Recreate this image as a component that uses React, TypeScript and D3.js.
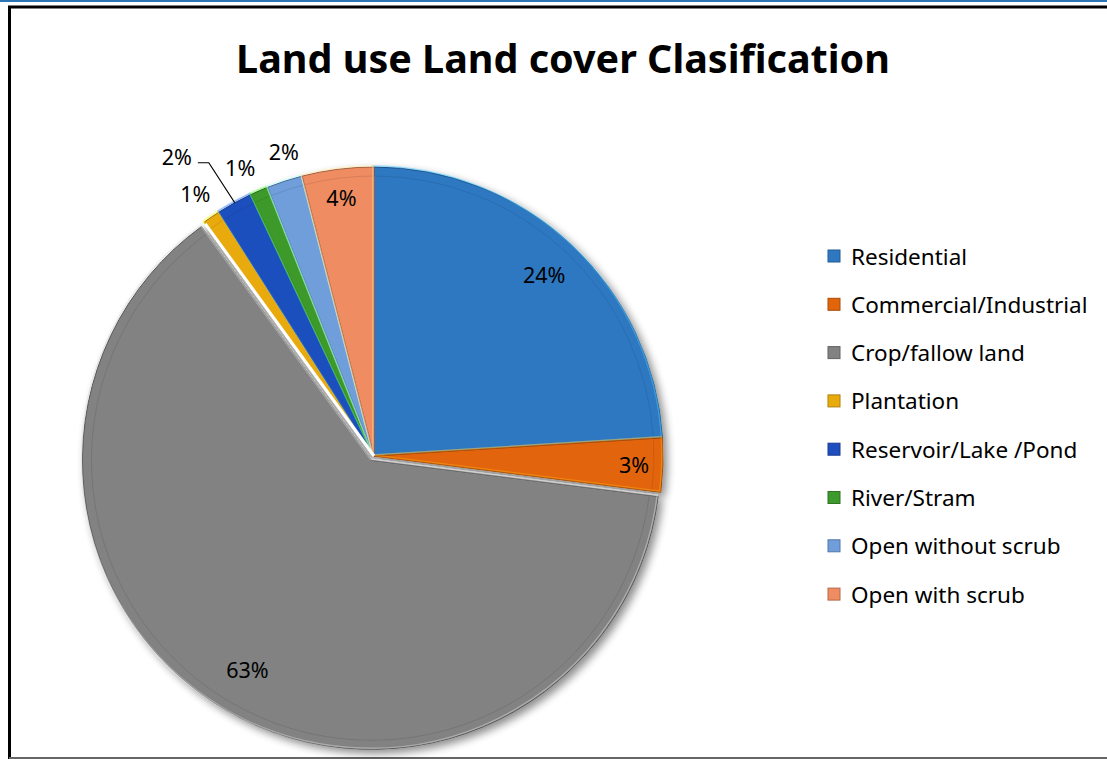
import React from 'react';
import * as d3 from 'd3';

const categories = [
  'Residential',
  'Commercial/Industrial',
  'Crop/fallow land',
  'Plantation',
  'Reservoir/Lake /Pond',
  'River/Stram',
  'Open without scrub',
  'Open with scrub',
];
const shares = [24, 3, 63, 1, 2, 1, 2, 4];
const colors = ['#2e78c2', '#e2650c', '#828282', '#e9aa0c', '#1f4fbe', '#3d9a2c', '#6f9edb', '#ef8c62'];
const title = 'Land use Land cover Clasification';

const W = 1107;
const H = 759;
const cx = 374;
const cy = 456;
const R = 289;
const FONT = "'Noto Sans', 'Open Sans', sans-serif";

interface Slice {
  name: string;
  value: number;
}

const data: Slice[] = categories.map((name, i) => ({ name, value: shares[i] }));

const App: React.FC = () => {
  const pie = d3
    .pie<Slice>()
    .sort(null)
    .value((d) => d.value)
    .startAngle(0)
    .endAngle(2 * Math.PI);
  const arcs = pie(data);
  const total = d3.sum(shares);

  const arc = d3.arc<d3.PieArcDatum<Slice>>().innerRadius(0).outerRadius(R);
  const innerArc = d3.arc<d3.PieArcDatum<Slice>>().innerRadius(0).outerRadius(R - 9);

  const polar = (angle: number, r: number): [number, number] => [Math.sin(angle) * r, -Math.cos(angle) * r];
  const deg = Math.PI / 180;

  // crop slice is pulled out a touch
  const explode = (i: number) => (categories[i] === 'Crop/fallow land' ? 5 : 0);

  // small outside labels spread apart a little (degrees), like Excel's best fit
  const labelNudge: Record<string, number> = { 'River/Stram': -1.5, 'Open without scrub': 1.5 };

  const labelFactor = (d: d3.PieArcDatum<Slice>) => {
    const pct = d.data.value / total;
    if (pct >= 0.1) return 0.86;
    if (pct >= 0.03) return 0.9;
    return 1.1;
  };

  const legendX = 828;
  const legendY0 = 256;
  const legendStep = 48.3;

  return (
    <svg
      width={W}
      height={H}
      style={{ position: 'absolute', left: 0, top: 0, background: '#fff' }}
      fontFamily={FONT}
    >
      <defs>
        <filter id="shadow" x="-20%" y="-20%" width="140%" height="140%">
          <feGaussianBlur in="SourceAlpha" stdDeviation="4" />
          <feOffset dx="4" dy="4" result="blur" />
          <feComponentTransfer>
            <feFuncA type="linear" slope="0.45" />
          </feComponentTransfer>
          <feMerge>
            <feMergeNode />
            <feMergeNode in="SourceGraphic" />
          </feMerge>
        </filter>
      </defs>

      {/* frame */}
      <line x1={0} x2={W} y1={1} y2={1} stroke="#2e75b6" strokeWidth={2} />
      <line x1={8} x2={W} y1={7} y2={7} stroke="#000" strokeWidth={3} />
      <line x1={9.5} x2={9.5} y1={6} y2={H} stroke="#000" strokeWidth={3} />
      <line x1={9} x2={W} y1={758} y2={758} stroke="#666" strokeWidth={2} />

      <text x={563} y={73} textAnchor="middle" fontSize={39.5} fontWeight="bold" fill="#000">
        {title}
      </text>

      <g transform={`translate(${cx},${cy})`} filter="url(#shadow)">
        {arcs.map((d, i) => {
          const [ox, oy] = polar((d.startAngle + d.endAngle) / 2, explode(i));
          const base = d3.color(colors[i])!;
          return (
            <g key={d.data.name} transform={`translate(${ox},${oy})`}>
              <path d={arc(d)!} fill={colors[i]} stroke={base.darker(1.2).toString()} strokeWidth={1} />
              <path
                d={innerArc(d)!}
                fill="none"
                stroke={base.darker(0.5).toString()}
                strokeWidth={1}
                opacity={0.6}
              />
              <path
                d={arc(d)!}
                fill="none"
                stroke={base.brighter(1.4).toString()}
                strokeWidth={1.5}
                opacity={0.5}
                transform="translate(-1,-1)"
              />
            </g>
          );
        })}
      </g>

      {/* white seam next to the pulled-out slice */}
      <g transform={`translate(${cx},${cy})`}>
        {arcs
          .filter((_, i) => explode(i) > 0)
          .map((d) => {
            const [x1, y1] = polar(d.endAngle, R - 2);
            return <line key="seam" x1={0} y1={0} x2={x1} y2={y1} stroke="#fff" strokeWidth={3} />;
          })}
      </g>

      {/* data labels */}
      <g transform={`translate(${cx},${cy})`} fontSize={21.5} fill="#000">
        {arcs.map((d, i) => {
          const center = (d.startAngle + d.endAngle) / 2;
          const mid = center + (labelNudge[d.data.name] || 0) * deg;
          const label = `${Math.round((d.data.value / total) * 100)}%`;
          if (categories[i] === 'Reservoir/Lake /Pond') {
            const [ex, ey] = polar(center, R);
            const [lx, ly] = polar(center - 0.08, R * 1.24);
            return (
              <g key={d.data.name}>
                <polyline
                  points={`${lx + 21},${ly + 6} ${lx + 32},${ly + 6} ${ex},${ey}`}
                  fill="none"
                  stroke="#000"
                  strokeWidth={1.2}
                />
                <text x={lx} y={ly} textAnchor="middle" dominantBaseline="central">
                  {label}
                </text>
              </g>
            );
          }
          const [lx, ly] = polar(mid, R * labelFactor(d));
          return (
            <text key={d.data.name} x={lx} y={ly} textAnchor="middle" dominantBaseline="central">
              {label}
            </text>
          );
        })}
      </g>

      {/* legend */}
      <g fontSize={22.5} fill="#000">
        {categories.map((name, i) => {
          const y = legendY0 + i * legendStep;
          return (
            <g key={name}>
              <rect
                x={legendX}
                y={y - 6}
                width={12}
                height={12}
                fill={colors[i]}
                stroke={d3.color(colors[i])!.darker(0.8).toString()}
                strokeWidth={1}
              />
              <text x={legendX + 23} y={y} dominantBaseline="central">
                {name}
              </text>
            </g>
          );
        })}
      </g>
    </svg>
  );
};

export default App;
